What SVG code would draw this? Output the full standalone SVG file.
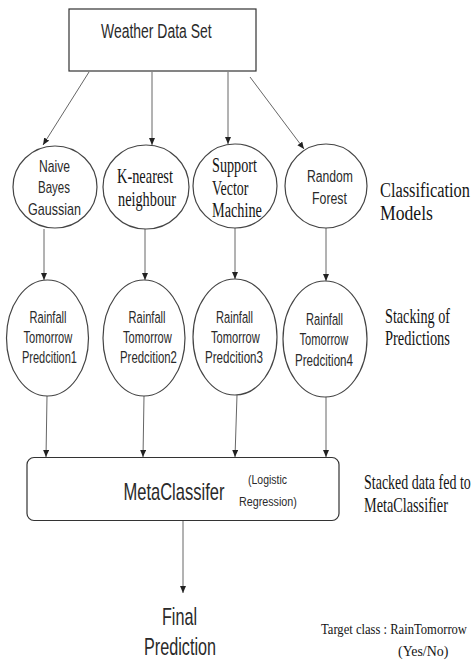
<svg xmlns="http://www.w3.org/2000/svg" width="473" height="662" viewBox="0 0 473 662">
<style>
.box{fill:#fff;stroke:#333;stroke-width:1.2}
.nd{fill:#fff;stroke:#444;stroke-width:1.2}
.sans{font-family:"Liberation Sans",Arial,sans-serif;fill:#2a2a2a}
.serif{font-family:"Liberation Serif","Times New Roman",serif;fill:#151515}
.edge{stroke:#666;stroke-width:1;fill:none;marker-end:url(#ah)}
</style>
<defs>
<marker id="ah" markerUnits="userSpaceOnUse" markerWidth="8" markerHeight="7" refX="7" refY="3" orient="auto">
<path d="M0,0 L7,3 L0,6 z" fill="#222"/>
</marker>
</defs>
<g id="connectors">
<line class="edge" x1="89" y1="72" x2="43" y2="145"/>
<line class="edge" x1="152" y1="72" x2="152" y2="145"/>
<line class="edge" x1="228" y1="72" x2="228" y2="144"/>
<line class="edge" x1="250" y1="77" x2="304" y2="149"/>
<line class="edge" x1="44" y1="229" x2="44" y2="280"/>
<line class="edge" x1="145" y1="229" x2="145" y2="280"/>
<line class="edge" x1="235" y1="228" x2="235" y2="279"/>
<line class="edge" x1="326" y1="228" x2="326" y2="281"/>
<line class="edge" x1="47" y1="396" x2="46" y2="457"/>
<line class="edge" x1="144" y1="396" x2="143" y2="457"/>
<line class="edge" x1="237" y1="395" x2="235" y2="457"/>
<line class="edge" x1="326" y1="397" x2="326" y2="457"/>
<line class="edge" x1="183" y1="521" x2="183" y2="593"/>
</g>
<g id="weather">
<rect class="box" x="69" y="9" width="187" height="62"/>
<text class="sans" font-size="20" transform="matrix(0.698 0 0 1 101 37.7)">Weather Data Set</text>
</g>
<g id="nb">
<ellipse class="nd" cx="55" cy="187" rx="42" ry="41"/>
<text class="sans" font-size="16" transform="matrix(0.758 0 0 1 39 171.5)">Naive</text>
<text class="sans" font-size="16" transform="matrix(0.72 0 0 1 38 193)">Bayes</text>
<text class="sans" font-size="16" transform="matrix(0.784 0 0 1 28 215)">Gaussian</text>
</g>
<g id="knn">
<ellipse class="nd" cx="146" cy="187" rx="43" ry="42"/>
<text class="serif" font-size="20" transform="matrix(0.72 0 0 1 117 183)">K-nearest</text>
<text class="serif" font-size="20" transform="matrix(0.715 0 0 1 118 206)">neighbour</text>
</g>
<g id="svm">
<ellipse class="nd" cx="235" cy="186" rx="42" ry="42"/>
<text class="serif" font-size="20" transform="matrix(0.71 0 0 1 212 171.5)">Support</text>
<text class="serif" font-size="20" transform="matrix(0.70 0 0 1 212 195)">Vector</text>
<text class="serif" font-size="20" transform="matrix(0.714 0 0 1 212 217)">Machine</text>
</g>
<g id="rf">
<ellipse class="nd" cx="326" cy="186" rx="41" ry="42"/>
<text class="sans" font-size="17" transform="matrix(0.716 0 0 1 307 182)">Random</text>
<text class="sans" font-size="17" transform="matrix(0.726 0 0 1 312 204)">Forest</text>
</g>
<g id="p1">
<ellipse class="nd" cx="47.5" cy="338" rx="41" ry="58"/>
<text class="sans" font-size="17" transform="matrix(0.653 0 0 1 29.5 323)">Rainfall</text>
<text class="sans" font-size="17" transform="matrix(0.654 0 0 1 23.5 343)">Tomorrow</text>
<text class="sans" font-size="17" transform="matrix(0.647 0 0 1 22 363)">Predcition1</text>
</g>
<g id="p2">
<ellipse class="nd" cx="144" cy="338" rx="41" ry="58"/>
<text class="sans" font-size="17" transform="matrix(0.653 0 0 1 128.5 323)">Rainfall</text>
<text class="sans" font-size="17" transform="matrix(0.654 0 0 1 123 343)">Tomorrow</text>
<text class="sans" font-size="17" transform="matrix(0.67 0 0 1 120 363)">Predcition2</text>
</g>
<g id="p3">
<ellipse class="nd" cx="235" cy="337" rx="42" ry="58"/>
<text class="sans" font-size="17" transform="matrix(0.653 0 0 1 216 323)">Rainfall</text>
<text class="sans" font-size="17" transform="matrix(0.654 0 0 1 211 343)">Tomorrow</text>
<text class="sans" font-size="17" transform="matrix(0.682 0 0 1 205 363)">Predcition3</text>
</g>
<g id="p4">
<ellipse class="nd" cx="325" cy="339" rx="42" ry="58"/>
<text class="sans" font-size="17" transform="matrix(0.653 0 0 1 306 325)">Rainfall</text>
<text class="sans" font-size="17" transform="matrix(0.654 0 0 1 299.5 345)">Tomorrow</text>
<text class="sans" font-size="17" transform="matrix(0.682 0 0 1 295 366)">Predcition4</text>
</g>
<g id="meta">
<rect class="box" x="27" y="457.5" width="312" height="63" rx="7"/>
<text class="sans" font-size="23" transform="matrix(0.718 0 0 1 123.5 499.5)">MetaClassifer</text>
<text class="sans" font-size="13" transform="matrix(0.806 0 0 1 248 484)">(Logistic</text>
<text class="sans" font-size="13" transform="matrix(0.827 0 0 1 239 505.5)">Regression)</text>
</g>
<g id="final">
<text class="sans" font-size="24" transform="matrix(0.673 0 0 1 162 625)">Final</text>
<text class="sans" font-size="24" transform="matrix(0.675 0 0 1 144 655)">Prediction</text>
</g>
<g id="labels">
<text class="serif" font-size="20" transform="matrix(0.818 0 0 1 380 197)">Classification</text>
<text class="serif" font-size="20" transform="matrix(0.883 0 0 1 380 220)">Models</text>
<text class="serif" font-size="20" transform="matrix(0.709 0 0 1 385 323)">Stacking of</text>
<text class="serif" font-size="20" transform="matrix(0.722 0 0 1 385 345)">Predictions</text>
<text class="serif" font-size="20" transform="matrix(0.70 0 0 1 364 489)">Stacked data fed to</text>
<text class="serif" font-size="20" transform="matrix(0.713 0 0 1 364 511.5)">MetaClassifier</text>
<text class="serif" font-size="14.5" transform="matrix(0.869 0 0 1 321 633.5)">Target class : RainTomorrow</text>
<text class="serif" font-size="14.5" transform="matrix(0.96 0 0 1 398 656)">(Yes/No)</text>
</g>
</svg>
